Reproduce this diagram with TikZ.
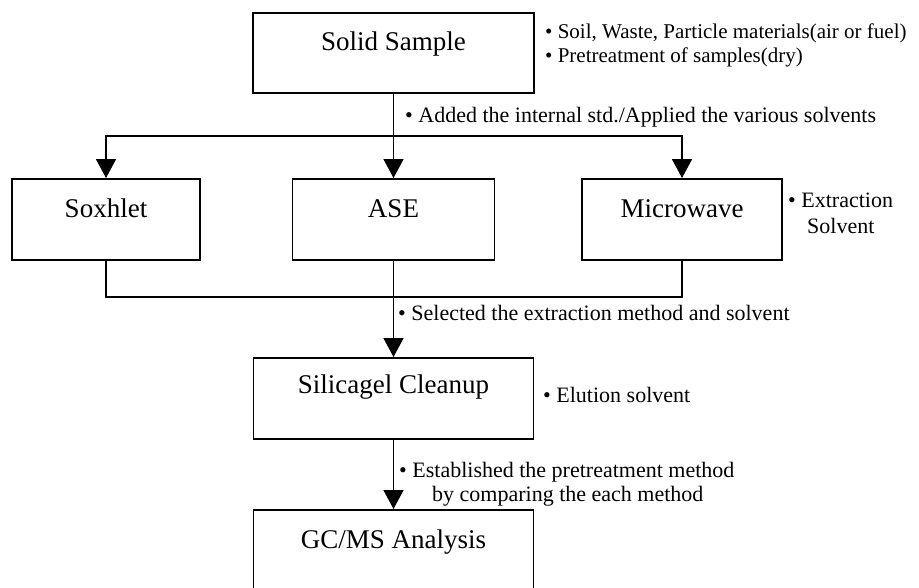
\documentclass[tikz,border=0pt]{standalone}
\usepackage{fontspec}
\setmainfont{Liberation Serif}
\usetikzlibrary{arrows.meta}

\tikzset{
  stage/.style={draw, line width=1.6pt, inner sep=0pt, anchor=north,
    font=\fontsize{27}{32}\selectfont},
  note/.style={anchor=base west, inner sep=0pt, align=left,
    font=\fontsize{22}{24}\selectfont},
  link/.style={line width=1.6pt},
  flow/.style={line width=1.6pt, -{Triangle[width=20pt,length=19pt]}}
}

\begin{document}
\begin{tikzpicture}[x=1pt,y=-1pt]
\useasboundingbox (0,0) rectangle (919,587);
\clip (0,0) rectangle (919,587);

% boxes
\node[stage, minimum width=281pt, text height=38pt, text depth=42pt] (solid) at (393.5,12) {Solid Sample};
\node[stage, minimum width=188pt, text height=39pt, text depth=42pt] (soxhlet) at (106,178) {Soxhlet};
\node[stage, minimum width=202pt, text height=39pt, text depth=42pt] (ase) at (393.5,178) {ASE};
\node[stage, minimum width=200pt, text height=39pt, text depth=42pt] (micro) at (682,178) {Microwave};
\node[stage, minimum width=280pt, text height=36pt, text depth=45pt] (silica) at (393.5,357) {Silicagel Cleanup};
\node[stage, minimum width=280pt, text height=39pt, text depth=44pt] (gcms) at (393.5,509) {GC/MS Analysis};

% connectors
\coordinate (split) at (393.5,136);
\coordinate (merge) at (393.5,297);
\draw[link] (solid.south) -- (split);
\draw[flow] (split) -| (soxhlet.north);
\draw[flow] (split) -- (ase.north);
\draw[flow] (split) -| (micro.north);
\draw[link] (soxhlet.south) |- (merge);
\draw[link] (micro.south) |- (merge);
\draw[link] (ase.south) -- (merge);
\draw[flow] (merge) -- (silica.north);
\draw[flow] (silica.south) -- (gcms.north);

% notes (base = last line)
\node[note, font=\fontsize{21}{24}\selectfont] (sample) at (545,62) {\textbullet\ Soil, Waste, Particle materials(air or fuel)\\
  \textbullet\ Pretreatment of samples(dry)};
\node[note] (added) at (405,122) {\textbullet\ Added the internal std./Applied the various solvents};
\node[note, font=\fontsize{22}{26}\selectfont] (extract) at (788,233) {\textbullet\ Extraction\\
  \hspace*{19pt}Solvent};
\node[note] (selected) at (398,320) {\textbullet\ Selected the extraction method and solvent};
\node[note] (elution) at (543,402) {\textbullet\ Elution solvent};
\node[note] (method) at (399,501) {\textbullet\ Established the pretreatment method\\
  \hspace*{33pt}by comparing the each method};
\end{tikzpicture}
\end{document}
